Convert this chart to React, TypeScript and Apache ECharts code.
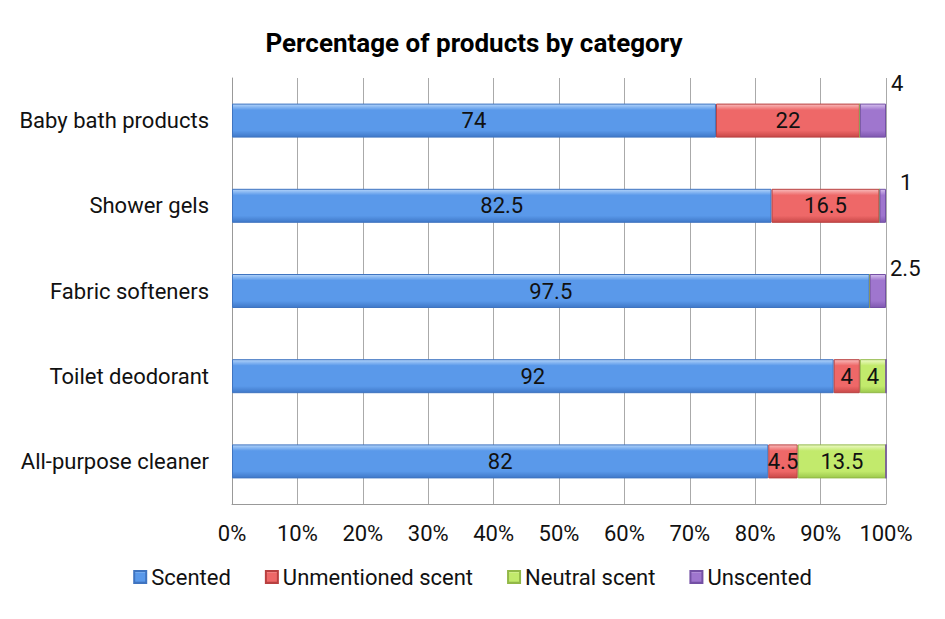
import React, { useEffect, useRef } from "react";
import * as echarts from "echarts";

const categories = ["All-purpose cleaner", "Toilet deodorant", "Fabric softeners", "Shower gels", "Baby bath products"];
const scented = [82, 92, 97.5, 82.5, 74];
const unmentioned = [4.5, 4, 0, 16.5, 22];
const neutral = [13.5, 4, 0, 0, 0];
const unscented = [0, 0, 2.5, 1, 4];
const seriesNames = ["Scented", "Unmentioned scent", "Neutral scent", "Unscented"];

const grad = (top: string, mid: string, bot: string) =>
  new echarts.graphic.LinearGradient(0, 0, 0, 1, [
    { offset: 0, color: top },
    { offset: 0.18, color: mid },
    { offset: 0.8, color: mid },
    { offset: 1, color: bot },
  ]);

export default function App() {
  const ref = useRef<HTMLDivElement>(null);
  useEffect(() => {
    if (!ref.current) return;
    const chart = echarts.init(ref.current, undefined, { renderer: "svg" });
    const font = "Roboto, 'Noto Sans', sans-serif";
    const fmt = (p: any) => (p.value ? String(p.value) : "");
    const unscentedOffsets: Record<number, number[]> = { 2: [-1, -23], 3: [9, -23], 4: [0, -37] };
    const mkSeries = (name: string, data: number[], color: any, border: string, idx: number) => ({
      name,
      type: "bar",
      stack: "total",
      barWidth: 34,
      data: data.map((v, i) => {
        const item: any = { value: v };
        if (idx === 3 && v) {
          item.label = { show: true, position: "right", offset: unscentedOffsets[i] || [0, -23] };
        }
        return item;
      }),
      itemStyle: { color, borderColor: border, borderWidth: 1 },
      label: {
        show: idx !== 3,
        position: "inside",
        formatter: fmt,
        color: "#111",
        fontSize: 22,
        fontFamily: font,
      },
    });
    chart.setOption({
      animation: false,
      backgroundColor: "#fff",
      title: {
        text: "Percentage of products by category",
        left: 461,
        top: 17,
        textAlign: "center",
        textStyle: { fontSize: 26, fontWeight: "bold", color: "#000", fontFamily: font },
      },
      legend: {
        top: 553,
        left: "center",
        itemWidth: 12,
        itemHeight: 12,
        itemGap: 34,
        icon: "rect",
        textStyle: { fontSize: 22, color: "#111", fontFamily: font },
        data: seriesNames,
      },
      grid: { left: 224, right: 51, top: 70, bottom: 107, containLabel: false },
      xAxis: {
        type: "value",
        min: 0,
        max: 100,
        interval: 10,
        axisLabel: { formatter: "{value}%", fontSize: 22, color: "#111", fontFamily: font, margin: 18 },
        axisLine: { show: true, lineStyle: { color: "#999" } },
        axisTick: { show: false },
        splitLine: { show: true, lineStyle: { color: "#aaa", width: 1 } },
      },
      yAxis: {
        type: "category",
        data: categories,
        axisLabel: { fontSize: 22, color: "#111", fontFamily: font, margin: 23 },
        axisLine: { show: true, lineStyle: { color: "#999" } },
        axisTick: { show: false },
      },
      series: [
        mkSeries(seriesNames[0], scented, grad("#b3d4fa", "#5a99ea", "#3f78c8"), "#3f74c0", 0),
        mkSeries(seriesNames[1], unmentioned, grad("#f9bcbc", "#ee6868", "#c84848"), "#b84040", 1),
        mkSeries(seriesNames[2], neutral, grad("#eefac8", "#c2ea6c", "#9cc84c"), "#92b848", 2),
        {
          ...mkSeries(seriesNames[3], unscented, grad("#d6c0ee", "#9f76ce", "#7f58b0"), "#7450a4", 3),
          label: { show: false, formatter: fmt, color: "#111", fontSize: 22, fontFamily: font },
        },
      ],
    });
    return () => chart.dispose();
  }, []);
  return <div ref={ref} style={{ width: 929, height: 603 }} />;
}
